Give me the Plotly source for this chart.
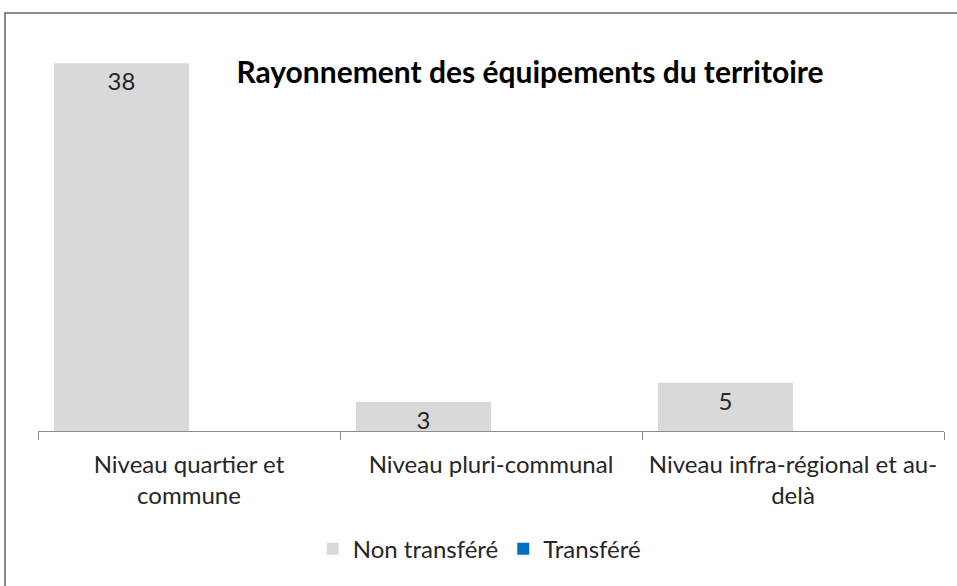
import plotly.graph_objects as go

categories = ["Niveau quartier et<br>commune", "Niveau pluri-communal", "Niveau infra-régional et au-<br>delà"]
non_transfere = [38, 3, 5]
transfere = [0, 0, 0]
title_text = "Rayonnement des équipements du territoire"

FONT = "Lato, Carlito, Calibri, sans-serif"
TXT = "#262626"

fig = go.Figure()
fig.add_trace(go.Bar(
    name="Non transféré", x=categories, y=non_transfere,
    marker=dict(color="#D9D9D9", line=dict(width=0)),
    text=[str(v) for v in non_transfere], textposition="inside",
    insidetextanchor="end", constraintext="none", textangle=0,
    textfont=dict(family=FONT, size=24, color=TXT),
))
fig.add_trace(go.Bar(
    name="Transféré", x=categories, y=transfere,
    marker=dict(color="#0070C0", line=dict(width=0)),
))

fig.update_layout(
    width=957, height=586,
    paper_bgcolor="white", plot_bgcolor="white",
    margin=dict(l=38, r=13, t=44, b=155),
    barmode="group", bargap=0.106, bargroupgap=0,
    font=dict(family=FONT, size=24, color=TXT),
    title=dict(text="<b>" + title_text + "</b>", x=530/957, xanchor="center",
               y=1 - 72/586, yanchor="middle",
               font=dict(family=FONT, size=30, color="#000000")),
    showlegend=True,
    legend=dict(orientation="h", x=0.487, xanchor="center", y=-0.305, yanchor="middle",
                font=dict(family=FONT, size=24, color=TXT),
                itemwidth=30, traceorder="normal"),
    xaxis=dict(showline=True, linecolor="#8C8C8C", linewidth=1,
               ticks="outside", tickson="boundaries", ticklen=8, tickcolor="#8C8C8C",
               ticklabelstandoff=12,
               showgrid=False, tickfont=dict(family=FONT, size=24, color=TXT)),
    yaxis=dict(range=[0, 40], visible=False, showgrid=False),
    shapes=[dict(type="rect", xref="paper", yref="paper",
                 x0=(5-38)/906, x1=1.2, y0=-0.6, y1=1 + (44-13)/387,
                 line=dict(color="#8C8C8C", width=2), fillcolor="rgba(0,0,0,0)", layer="below")],
)

fig.write_html("out.html", config={"displayModeBar": False},
               post_script="document.body.style.margin='0';")
